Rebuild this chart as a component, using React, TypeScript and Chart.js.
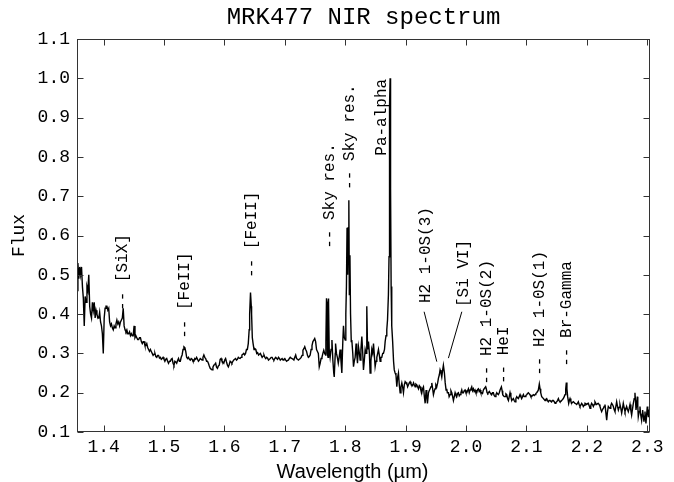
import React, { useEffect, useRef } from "react";
import { Chart, registerables } from "chart.js";

Chart.register(...registerables);

const TITLE = "MRK477 NIR spectrum";
const X_LABEL = "Wavelength (µm)";
const Y_LABEL = "Flux";
const X_MIN = 1.356;
const X_MAX = 2.3045;
const Y_MIN = 0.1;
const Y_MAX = 1.1;
const TICK_STEP = 0.1;

// Spectrum, [wavelength (µm), flux]
const SEG_J_EDGE: [number, number][] = [
  [1.356, 0.46], [1.3575, 0.53], [1.359, 0.49], [1.3605, 0.52], [1.362, 0.5], [1.3635, 0.52], [1.365, 0.47],
  [1.3665, 0.44], [1.368, 0.37], [1.3695, 0.445], [1.371, 0.43], [1.3725, 0.47], [1.374, 0.46], [1.3755, 0.5],
  [1.377, 0.42], [1.3785, 0.4], [1.38, 0.39], [1.3815, 0.43], [1.383, 0.41], [1.3845, 0.43], [1.386, 0.39],
  [1.3875, 0.41], [1.389, 0.4], [1.3905, 0.39], [1.392, 0.39], [1.3935, 0.405], [1.395, 0.38], [1.3965, 0.37],
  [1.398, 0.35], [1.3995, 0.3], [1.401, 0.39], [1.4025, 0.415], [1.404, 0.42], [1.4055, 0.42], [1.407, 0.41],
  [1.4085, 0.415], [1.41, 0.38], [1.4115, 0.37], [1.413, 0.375], [1.4145, 0.365], [1.416, 0.36], [1.4175, 0.37],
  [1.419, 0.365], [1.4205, 0.375], [1.422, 0.385], [1.4235, 0.375], [1.425, 0.38], [1.4265, 0.37], [1.428, 0.38],
  [1.4295, 0.385], [1.431, 0.39], [1.4325, 0.415], [1.434, 0.37], [1.4355, 0.36], [1.437, 0.355], [1.4385, 0.36],
  [1.44, 0.35],
];

const SEG_H_BLUE: [number, number][] = [
  [1.4415, 0.35], [1.443, 0.355], [1.4445, 0.345], [1.446, 0.35], [1.4475, 0.345], [1.449, 0.345], [1.4505, 0.37],
  [1.452, 0.34], [1.4535, 0.345], [1.455, 0.34], [1.4565, 0.335], [1.458, 0.335], [1.4595, 0.34], [1.461, 0.34],
  [1.4625, 0.33], [1.464, 0.325], [1.4655, 0.33], [1.467, 0.33], [1.4685, 0.32], [1.47, 0.32], [1.4715, 0.325],
  [1.473, 0.315], [1.4745, 0.31], [1.476, 0.305], [1.4775, 0.31], [1.479, 0.305], [1.4805, 0.3], [1.482, 0.295],
  [1.4835, 0.298], [1.485, 0.3], [1.4865, 0.292], [1.488, 0.29], [1.4895, 0.295], [1.491, 0.295], [1.4925, 0.288],
  [1.494, 0.29], [1.4955, 0.285], [1.497, 0.287], [1.4985, 0.29], [1.5, 0.285], [1.5015, 0.28], [1.503, 0.285],
  [1.5045, 0.287], [1.506, 0.28], [1.5075, 0.275], [1.509, 0.28], [1.5105, 0.28], [1.512, 0.285], [1.5135, 0.287],
  [1.515, 0.275], [1.5165, 0.27], [1.518, 0.28], [1.5195, 0.278], [1.521, 0.275], [1.5225, 0.282], [1.524, 0.287],
  [1.5255, 0.28], [1.527, 0.28], [1.5285, 0.29], [1.53, 0.296], [1.5315, 0.31], [1.533, 0.317], [1.5345, 0.315],
  [1.536, 0.305], [1.5375, 0.29], [1.539, 0.287], [1.5405, 0.29], [1.542, 0.285], [1.5435, 0.283], [1.545, 0.287],
  [1.5465, 0.285], [1.548, 0.28], [1.5495, 0.28], [1.551, 0.287], [1.5525, 0.285], [1.554, 0.29], [1.5555, 0.285],
  [1.557, 0.28], [1.5585, 0.283], [1.56, 0.287], [1.5615, 0.285], [1.563, 0.283], [1.5645, 0.29], [1.566, 0.296],
  [1.5675, 0.29], [1.569, 0.287], [1.5705, 0.28], [1.572, 0.28], [1.5735, 0.275], [1.575, 0.268], [1.5765, 0.262],
  [1.578, 0.26], [1.5795, 0.258], [1.581, 0.265], [1.5825, 0.27], [1.584, 0.272], [1.5855, 0.275], [1.587, 0.265],
  [1.5885, 0.262], [1.59, 0.268], [1.5915, 0.27], [1.593, 0.285], [1.5945, 0.287], [1.596, 0.28], [1.5975, 0.278],
  [1.599, 0.275], [1.6005, 0.283], [1.602, 0.287], [1.6035, 0.278], [1.605, 0.27], [1.6065, 0.266], [1.608, 0.272],
  [1.6095, 0.28], [1.611, 0.278], [1.6125, 0.275], [1.614, 0.28], [1.6155, 0.283], [1.617, 0.285], [1.6185, 0.287],
  [1.62, 0.283], [1.6215, 0.285], [1.623, 0.29], [1.6245, 0.288], [1.626, 0.287], [1.6275, 0.29], [1.629, 0.296],
  [1.6305, 0.298], [1.632, 0.3], [1.6335, 0.296], [1.635, 0.3], [1.6365, 0.31], [1.638, 0.31], [1.6395, 0.325],
];

const SEG_H_RED: [number, number][] = [
  [1.641, 0.36], [1.6418, 0.4], [1.6432, 0.455], [1.6445, 0.42], [1.645, 0.4], [1.6462, 0.34], [1.6475, 0.325],
  [1.649, 0.31], [1.6505, 0.312], [1.652, 0.31], [1.6535, 0.3], [1.655, 0.302], [1.6565, 0.296], [1.658, 0.298],
  [1.6595, 0.3], [1.661, 0.295], [1.6625, 0.29], [1.664, 0.293], [1.6655, 0.296], [1.667, 0.29], [1.6685, 0.287],
  [1.67, 0.29], [1.6715, 0.288], [1.673, 0.283], [1.6745, 0.285], [1.676, 0.287], [1.6775, 0.29], [1.679, 0.29],
  [1.6805, 0.285], [1.682, 0.283], [1.6835, 0.287], [1.685, 0.29], [1.6865, 0.287], [1.688, 0.285], [1.6895, 0.29],
  [1.691, 0.287], [1.6925, 0.283], [1.694, 0.285], [1.6955, 0.287], [1.697, 0.283], [1.6985, 0.285], [1.7, 0.287],
  [1.7015, 0.283], [1.703, 0.28], [1.7045, 0.282], [1.706, 0.283], [1.7075, 0.287], [1.709, 0.29], [1.7105, 0.288],
  [1.712, 0.287], [1.7135, 0.285], [1.715, 0.283], [1.7165, 0.29], [1.718, 0.296], [1.7195, 0.287], [1.721, 0.285],
  [1.7225, 0.283], [1.724, 0.285], [1.7255, 0.287], [1.727, 0.29], [1.7285, 0.295], [1.73, 0.308], [1.7315, 0.312],
  [1.733, 0.317], [1.7345, 0.31], [1.736, 0.305], [1.7375, 0.295], [1.739, 0.29], [1.7405, 0.292], [1.742, 0.296],
  [1.7435, 0.31], [1.745, 0.32], [1.7465, 0.33], [1.748, 0.334], [1.7495, 0.338], [1.751, 0.33], [1.7525, 0.31],
  [1.754, 0.305], [1.7555, 0.3], [1.757, 0.266], [1.7585, 0.275], [1.76, 0.287], [1.7615, 0.29], [1.763, 0.3],
  [1.7645, 0.308], [1.766, 0.3], [1.7675, 0.296],
];

const SEG_GAP: [number, number][] = [
  [1.768, 0.33], [1.769, 0.44], [1.77, 0.43], [1.7705, 0.3], [1.7715, 0.29], [1.772, 0.44], [1.7728, 0.43],
  [1.7735, 0.31], [1.775, 0.29], [1.7765, 0.31], [1.778, 0.334], [1.7795, 0.283], [1.781, 0.25], [1.7818, 0.24],
  [1.7835, 0.3], [1.784, 0.325], [1.7855, 0.3], [1.787, 0.29], [1.7885, 0.275], [1.79, 0.29], [1.7915, 0.31],
  [1.793, 0.28], [1.7944, 0.25], [1.796, 0.33], [1.7971, 0.37], [1.7985, 0.34], [1.8, 0.334], [1.801, 0.4],
  [1.802, 0.47], [1.803, 0.62], [1.804, 0.5], [1.805, 0.62], [1.806, 0.69], [1.8068, 0.45], [1.8078, 0.55],
  [1.8088, 0.4], [1.81, 0.33], [1.8109, 0.334], [1.8125, 0.3], [1.8137, 0.266], [1.815, 0.28], [1.8164, 0.29],
  [1.818, 0.325], [1.819, 0.3], [1.8203, 0.275], [1.8219, 0.317], [1.8235, 0.3], [1.8247, 0.283], [1.826, 0.31],
  [1.8275, 0.343], [1.829, 0.3], [1.8302, 0.258], [1.8315, 0.28], [1.833, 0.31], [1.8345, 0.3], [1.8357, 0.42],
  [1.837, 0.31], [1.8385, 0.33], [1.84, 0.3], [1.8412, 0.25], [1.8425, 0.28], [1.844, 0.31], [1.8455, 0.3],
  [1.8468, 0.325], [1.848, 0.3], [1.8495, 0.266], [1.851, 0.28], [1.8523, 0.29], [1.8537, 0.3], [1.855, 0.31],
  [1.8565, 0.295], [1.8578, 0.28], [1.859, 0.29], [1.8605, 0.29], [1.862, 0.3], [1.8633, 0.3], [1.865, 0.31],
  [1.8661, 0.33], [1.8675, 0.345], [1.8688, 0.36], [1.87, 0.385], [1.8715, 0.45], [1.8725, 0.546], [1.873, 0.776],
  [1.8737, 0.93], [1.8743, 1.0], [1.8748, 0.98], [1.8753, 0.72], [1.876, 0.47], [1.877, 0.37], [1.8785, 0.33],
  [1.88, 0.28], [1.8812, 0.258], [1.8826, 0.25], [1.884, 0.245], [1.8854, 0.215], [1.8868, 0.24], [1.8881, 0.25],
  [1.8895, 0.22], [1.8909, 0.2], [1.8923, 0.215], [1.8937, 0.225], [1.895, 0.215], [1.8964, 0.2], [1.8978, 0.22],
  [1.8992, 0.228], [1.9005, 0.225], [1.9019, 0.225], [1.9033, 0.215], [1.9047, 0.22], [1.906, 0.225],
  [1.9074, 0.228], [1.9088, 0.222], [1.9102, 0.22], [1.9116, 0.218], [1.913, 0.225], [1.9143, 0.22],
  [1.9157, 0.215], [1.917, 0.222], [1.9185, 0.22], [1.9198, 0.215], [1.9212, 0.21], [1.9226, 0.218], [1.924, 0.215],
  [1.9254, 0.205], [1.9268, 0.2], [1.928, 0.21], [1.9295, 0.215], [1.931, 0.19], [1.9323, 0.173], [1.9339, 0.207],
  [1.935, 0.19], [1.9361, 0.173], [1.9378, 0.2], [1.939, 0.205], [1.9405, 0.21], [1.942, 0.215], [1.9433, 0.225],
  [1.9447, 0.21], [1.946, 0.195], [1.9475, 0.205], [1.9488, 0.21], [1.95, 0.22], [1.9515, 0.215], [1.953, 0.225],
  [1.9543, 0.237], [1.9557, 0.245], [1.957, 0.258], [1.9585, 0.25], [1.9598, 0.24], [1.961, 0.255], [1.9625, 0.27],
  [1.9642, 0.25], [1.9655, 0.225], [1.9669, 0.207], [1.968, 0.21], [1.9691, 0.2], [1.9709, 0.2], [1.972, 0.19],
  [1.9736, 0.195], [1.975, 0.205], [1.9764, 0.2], [1.9778, 0.19], [1.9791, 0.18], [1.9805, 0.19], [1.9819, 0.2],
  [1.983, 0.195], [1.9846, 0.19], [1.986, 0.198], [1.9874, 0.2], [1.9888, 0.192], [1.9901, 0.195], [1.9915, 0.2],
  [1.9929, 0.207], [1.994, 0.2], [1.9956, 0.2], [1.997, 0.205], [1.9984, 0.207], [1.9998, 0.2],
];

const SEG_K: [number, number][] = [
  [2.0012, 0.2], [2.0025, 0.205], [2.0039, 0.21], [2.0053, 0.2], [2.0067, 0.207], [2.008, 0.21], [2.0094, 0.215],
  [2.0108, 0.205], [2.0122, 0.21], [2.0135, 0.203], [2.0149, 0.207], [2.0163, 0.2], [2.0177, 0.2], [2.019, 0.208],
  [2.0204, 0.21], [2.0218, 0.203], [2.0232, 0.207], [2.0245, 0.2], [2.0259, 0.2], [2.0273, 0.198], [2.0287, 0.207],
  [2.03, 0.21], [2.0325, 0.215], [2.0335, 0.21], [2.0348, 0.2], [2.036, 0.198], [2.037, 0.2], [2.0385, 0.203],
  [2.0397, 0.2], [2.041, 0.197], [2.0425, 0.195], [2.044, 0.2], [2.0452, 0.2], [2.0465, 0.193], [2.048, 0.19],
  [2.0495, 0.195], [2.0508, 0.2], [2.052, 0.197], [2.0535, 0.195], [2.055, 0.2], [2.0563, 0.207], [2.0585, 0.215],
  [2.0597, 0.205], [2.0607, 0.195], [2.062, 0.192], [2.0633, 0.19], [2.0646, 0.19], [2.066, 0.197], [2.0673, 0.195],
  [2.0687, 0.185], [2.0701, 0.18], [2.0715, 0.19], [2.0728, 0.2], [2.0742, 0.19], [2.0756, 0.18], [2.077, 0.183],
  [2.0783, 0.185], [2.0797, 0.18], [2.0811, 0.177], [2.0825, 0.185], [2.0839, 0.19], [2.0852, 0.187],
  [2.0866, 0.185], [2.088, 0.19], [2.0894, 0.195], [2.0907, 0.19], [2.0921, 0.185], [2.0935, 0.19], [2.0949, 0.195],
  [2.0962, 0.19], [2.0976, 0.19], [2.099, 0.193], [2.1004, 0.195], [2.1018, 0.198], [2.1032, 0.2], [2.1045, 0.197],
  [2.1059, 0.195], [2.1073, 0.19], [2.1087, 0.19], [2.11, 0.193], [2.1114, 0.195], [2.1128, 0.193], [2.1142, 0.195],
  [2.1155, 0.198], [2.1169, 0.2], [2.1183, 0.203], [2.1197, 0.207], [2.1213, 0.222], [2.1225, 0.21], [2.1236, 0.2],
  [2.1252, 0.19], [2.1265, 0.188], [2.128, 0.185], [2.1293, 0.183], [2.1307, 0.18], [2.132, 0.183], [2.1335, 0.185],
  [2.1348, 0.18], [2.1362, 0.177], [2.1376, 0.18], [2.139, 0.18], [2.1403, 0.178], [2.1417, 0.177], [2.143, 0.18],
  [2.1445, 0.18], [2.146, 0.177], [2.1473, 0.173], [2.1487, 0.175], [2.15, 0.177], [2.1514, 0.18], [2.1528, 0.185],
  [2.154, 0.18], [2.1555, 0.177], [2.157, 0.178], [2.1583, 0.18], [2.1597, 0.183], [2.161, 0.185], [2.1625, 0.19],
  [2.1638, 0.195], [2.165, 0.21], [2.166, 0.226], [2.167, 0.21], [2.1682, 0.19], [2.1699, 0.173], [2.171, 0.18],
  [2.1721, 0.185], [2.1735, 0.178], [2.1748, 0.173], [2.176, 0.175], [2.1776, 0.177], [2.179, 0.175],
  [2.1804, 0.173], [2.1818, 0.172], [2.1831, 0.17], [2.1845, 0.173], [2.1859, 0.177], [2.1872, 0.17],
  [2.1886, 0.165], [2.19, 0.168], [2.1914, 0.173], [2.1928, 0.17], [2.1941, 0.165], [2.1955, 0.168],
  [2.1969, 0.173], [2.1983, 0.172], [2.1997, 0.17], [2.201, 0.172], [2.2024, 0.173], [2.2038, 0.167],
  [2.2052, 0.16], [2.2065, 0.167], [2.2079, 0.173], [2.2093, 0.17], [2.2107, 0.165], [2.212, 0.17], [2.2134, 0.177],
  [2.2148, 0.173], [2.2162, 0.17], [2.2176, 0.172], [2.219, 0.173], [2.2203, 0.17], [2.2217, 0.165], [2.223, 0.158],
  [2.2245, 0.152], [2.2258, 0.157], [2.2272, 0.16], [2.2286, 0.165], [2.23, 0.17], [2.2314, 0.15], [2.2328, 0.13],
  [2.234, 0.15], [2.2355, 0.165], [2.2369, 0.162], [2.2383, 0.16], [2.2396, 0.167], [2.241, 0.173], [2.2424, 0.17],
  [2.2438, 0.165], [2.245, 0.158], [2.2465, 0.152], [2.248, 0.165], [2.2493, 0.177], [2.2507, 0.165],
  [2.2521, 0.156], [2.2535, 0.163], [2.2548, 0.17], [2.2562, 0.16], [2.2576, 0.148], [2.259, 0.16], [2.2603, 0.173],
  [2.2617, 0.162], [2.2631, 0.152], [2.2645, 0.158], [2.2658, 0.165], [2.2672, 0.158], [2.2686, 0.152], [2.27, 0.16],
  [2.2714, 0.17], [2.2728, 0.155], [2.2741, 0.143], [2.2755, 0.158], [2.2769, 0.173], [2.2783, 0.185], [2.2796, 0.2],
  [2.2805, 0.18], [2.2813, 0.156], [2.2825, 0.17], [2.2835, 0.19], [2.2843, 0.165], [2.2851, 0.139], [2.2865, 0.152],
  [2.2879, 0.165], [2.289, 0.145], [2.2906, 0.13], [2.2915, 0.145], [2.2923, 0.156], [2.2935, 0.14], [2.2945, 0.126],
  [2.2953, 0.14], [2.2962, 0.152], [2.297, 0.135], [2.2978, 0.122], [2.299, 0.145], [2.3, 0.165], [2.3008, 0.15],
  [2.3017, 0.139], [2.3025, 0.15], [2.3033, 0.156], [2.304, 0.16],
];

// Line identifications: rotated text starting at (wavelength, flux)
const LINE_LABELS: { text: string; w: number; f: number }[] = [
  { text: "-- [SiX]", w: 1.432, f: 0.408 },
  { text: "-- [FeII]", w: 1.535, f: 0.337 },
  { text: "-- [FeII]", w: 1.6455, f: 0.492 },
  { text: "-- Sky res.", w: 1.774, f: 0.566 },
  { text: "-- Sky res.", w: 1.808, f: 0.716 },
  { text: "Pa-alpha", w: 1.861, f: 0.803 },
  { text: "H2 1-0S(3)", w: 1.934, f: 0.428 },
  { text: "[Si VI]", w: 1.997, f: 0.418 },
  { text: "-- H2 1-0S(2)", w: 2.034, f: 0.22 },
  { text: "-- HeI", w: 2.062, f: 0.222 },
  { text: "-- H2 1-0S(1)", w: 2.1225, f: 0.243 },
  { text: "-- Br-Gamma", w: 2.1667, f: 0.266 },
];

// Leader lines [w1, f1, w2, f2]
const LEADERS: [number, number, number, number][] = [
  [1.9306, 0.406, 1.9516, 0.279],
  [1.993, 0.406, 1.9708, 0.288],
];

const SPECTRUM = [...SEG_J_EDGE, ...SEG_H_BLUE, ...SEG_H_RED, ...SEG_GAP, ...SEG_K];

const MONO = "'Liberation Mono', 'DejaVu Sans Mono', monospace";
const SANS = "'Liberation Sans', Arial, sans-serif";

const decorPlugin = {
  id: "decor",
  afterDatasetsDraw(chart: any) {
    const { ctx, chartArea: a, scales } = chart;
    const xs = scales.x;
    const ys = scales.y;
    ctx.save();
    // line labels
    ctx.fillStyle = "#000";
    ctx.font = `16px ${MONO}`;
    ctx.textAlign = "left";
    ctx.textBaseline = "middle";
    for (const l of LINE_LABELS) {
      const px = xs.getPixelForValue(l.w);
      const py = ys.getPixelForValue(l.f);
      ctx.save();
      ctx.translate(px, py);
      ctx.rotate(-Math.PI / 2);
      ctx.fillText(l.text, 0, 0);
      ctx.restore();
    }
    ctx.strokeStyle = "#000";
    ctx.lineWidth = 1;
    for (const [w1, f1, w2, f2] of LEADERS) {
      ctx.beginPath();
      ctx.moveTo(xs.getPixelForValue(w1), ys.getPixelForValue(f1));
      ctx.lineTo(xs.getPixelForValue(w2), ys.getPixelForValue(f2));
      ctx.stroke();
    }
    // frame
    ctx.strokeStyle = "#333";
    ctx.lineWidth = 1;
    const L = Math.round(a.left) + 0.5;
    const R = Math.round(a.right) - 0.5;
    const T = Math.round(a.top) + 0.5;
    const B = Math.round(a.bottom) - 0.5;
    ctx.strokeRect(L, T, R - L, B - T);
    ctx.beginPath();
    const TL = 6;
    for (const t of xs.ticks) {
      const px = Math.round(xs.getPixelForValue(t.value)) + 0.5;
      ctx.moveTo(px, B);
      ctx.lineTo(px, B - TL);
      ctx.moveTo(px, T);
      ctx.lineTo(px, T + TL);
    }
    for (const t of ys.ticks) {
      const py = Math.round(ys.getPixelForValue(t.value)) + 0.5;
      ctx.moveTo(L, py);
      ctx.lineTo(L + TL, py);
      ctx.moveTo(R, py);
      ctx.lineTo(R - TL, py);
    }
    ctx.stroke();
    // x axis title
    ctx.fillStyle = "#000";
    ctx.font = `20px ${SANS}`;
    ctx.textAlign = "center";
    ctx.textBaseline = "middle";
    ctx.fillText(X_LABEL, (a.left + a.right) / 2 - 11, 472);
    ctx.restore();
  },
};

export default function App() {
  const ref = useRef<HTMLCanvasElement | null>(null);

  useEffect(() => {
    if (!ref.current) return;
    const chart = new Chart(ref.current, {
      type: "line",
      data: {
        datasets: [
          {
            label: "MRK477",
            data: SPECTRUM.map(([x, y]) => ({ x, y })),
            borderColor: "#000",
            borderWidth: 1.4,
            pointRadius: 0,
            tension: 0,
            fill: false,
          },
        ],
      },
      options: {
        animation: false,
        responsive: false,
        devicePixelRatio: 1,
        parsing: false as any,
        layout: { padding: { left: 0, right: 24, top: 0, bottom: 0 } },
        plugins: {
          legend: { display: false },
          tooltip: { enabled: false },
          title: {
            display: true,
            text: TITLE,
            fullSize: false,
            color: "#000",
            font: { family: MONO, size: 24, weight: "normal" as any, lineHeight: 1.2 },
            padding: { top: 3, bottom: 7.2 },
          },
        },
        scales: {
          x: {
            type: "linear",
            min: X_MIN,
            max: X_MAX,
            grid: { display: false, drawTicks: false },
            border: { display: false },
            ticks: {
              stepSize: TICK_STEP,
              includeBounds: false,
              color: "#000",
              padding: 4,
              maxRotation: 0,
              autoSkip: false,
              font: { family: MONO, size: 18 },
              callback: (v: any) => Number(v).toFixed(1),
            },
            afterFit: (s: any) => {
              s.height = 50;
            },
          },
          y: {
            type: "linear",
            min: Y_MIN,
            max: Y_MAX,
            grid: { display: false, drawTicks: false },
            border: { display: false },
            title: {
              display: true,
              text: Y_LABEL,
              color: "#000",
              font: { family: MONO, size: 18, lineHeight: 1.2 },
              padding: { top: 8, bottom: 0 },
            },
            ticks: {
              stepSize: TICK_STEP,
              color: "#000",
              padding: 7,
              autoSkip: false,
              font: { family: MONO, size: 18 },
              callback: (v: any) => Number(v).toFixed(1),
            },
            afterFit: (s: any) => {
              s.width = 77;
            },
          },
        },
      },
      plugins: [decorPlugin],
    });
    return () => chart.destroy();
  }, []);

  return (
    <div style={{ position: "fixed", left: 0, top: 0, width: 674, height: 482, background: "#fff" }}>
      <canvas ref={ref} width={674} height={482} style={{ width: 674, height: 482, display: "block" }} />
    </div>
  );
}
